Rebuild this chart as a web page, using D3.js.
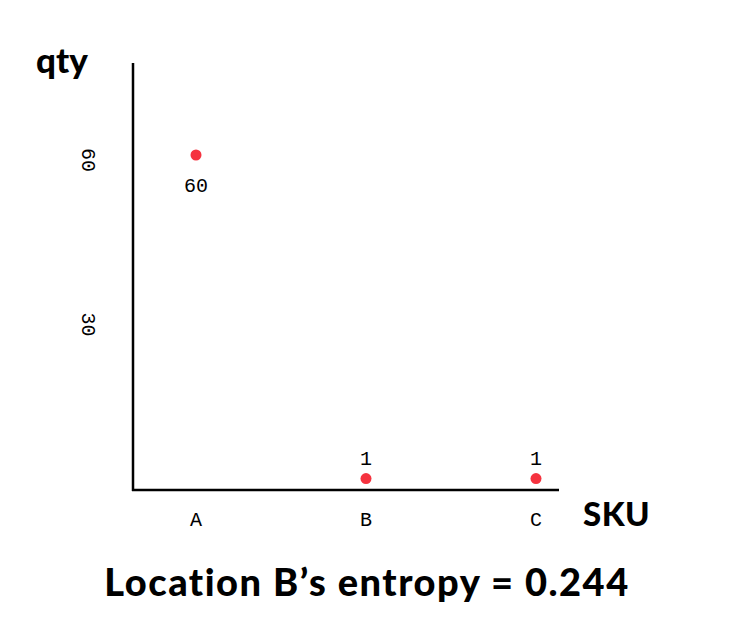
<!DOCTYPE html>
<html><head><meta charset="utf-8">
<script src="https://cdn.jsdelivr.net/npm/d3@7"></script>
<style>body{margin:0;background:#fff}</style>
</head><body><svg id="c" width="745" height="629"></svg>
<script>
const categories = ["A", "B", "C"];
const qty = [60, 1, 1];
const yTicks = [30, 60];
const title = "Location B\u2019s entropy = 0.244";

const svg = d3.select("#c");
const x = d3.scalePoint().domain(categories).range([196, 536]);
const y = d3.scaleLinear().domain([0, 60]).range([484, 155]);
const mono = "'Liberation Mono', 'Courier New', monospace";
const bold = "Lato, 'Open Sans', sans-serif";

// axes
svg.append("line").attr("x1", 133).attr("x2", 133).attr("y1", 63).attr("y2", 491)
  .attr("stroke", "#000").attr("stroke-width", 2.5);
svg.append("line").attr("x1", 132).attr("x2", 559).attr("y1", 490).attr("y2", 490)
  .attr("stroke", "#000").attr("stroke-width", 2.5);

// y tick labels (rotated)
svg.selectAll("text.yt").data(yTicks).enter().append("text")
  .attr("class", "yt")
  .attr("transform", d => `translate(87,${y(d) + 5}) rotate(90)`)
  .attr("text-anchor", "middle").attr("dominant-baseline", "central")
  .attr("font-family", mono).attr("font-size", 20).attr("fill", "#000")
  .text(d => d);

// x labels
svg.selectAll("text.xt").data(categories).enter().append("text")
  .attr("class", "xt").attr("x", d => x(d)).attr("y", 526)
  .attr("text-anchor", "middle").attr("font-family", mono).attr("font-size", 20)
  .text(d => d);

// points
const pts = categories.map((c, i) => ({c, v: qty[i]}));
svg.selectAll("circle").data(pts).enter().append("circle")
  .attr("cx", d => x(d.c)).attr("cy", d => y(d.v)).attr("r", 5.5).attr("fill", "#f5333f");
svg.selectAll("text.pl").data(pts).enter().append("text")
  .attr("class", "pl").attr("x", d => x(d.c))
  .attr("y", d => d.v > 30 ? y(d.v) + 37 : y(d.v) - 14)
  .attr("text-anchor", "middle").attr("font-family", mono).attr("font-size", 20)
  .text(d => d.v);

// axis titles
svg.append("text").attr("x", 36).attr("y", 73).attr("font-family", bold).attr("font-weight", 900)
  .attr("font-size", 35).attr("letter-spacing", 0).text("qty");
svg.append("text").attr("x", 583).attr("y", 526).attr("font-family", bold).attr("font-weight", 900)
  .attr("font-size", 33).attr("letter-spacing", 0.5).text("SKU");
svg.append("text").attr("x", 367).attr("y", 596).attr("text-anchor", "middle")
  .attr("font-family", bold).attr("font-weight", 900).attr("font-size", 38).attr("letter-spacing", 1.5)
  .text(title);
</script></body></html>
